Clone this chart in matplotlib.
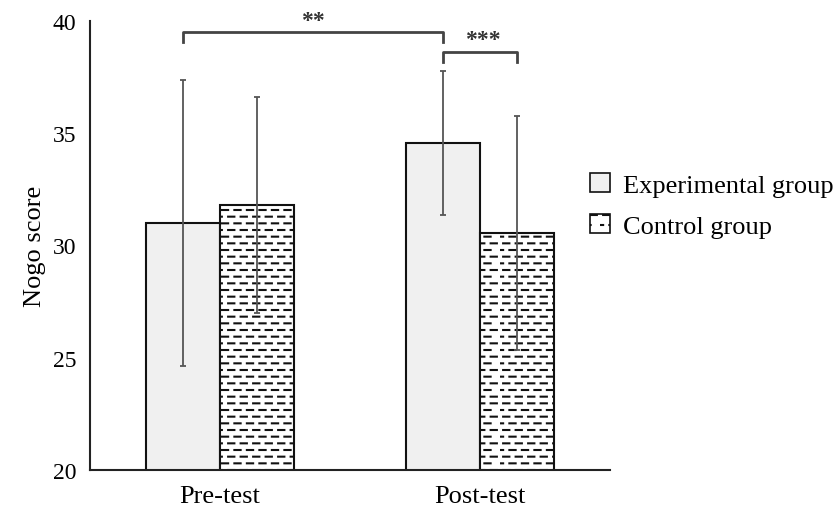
import numpy as np
import matplotlib
matplotlib.use("Agg")
import matplotlib.pyplot as plt
from matplotlib import hatch as mhatch
from matplotlib.path import Path
from matplotlib.patches import Patch

# ---- data ----
phases = ["Pre-test", "Post-test"]
groups = ["Experimental group", "Control group"]
exp_means = [31.0, 34.57]
exp_err = [6.37, 3.2]
ctrl_means = [31.8, 30.56]
ctrl_err = [4.8, 5.2]
sig_labels = ["**", "***"]
y_ticks = [20, 25, 30, 35, 40]


# ---- staggered dashed horizontal hatch (replaces the solid '-' hatch) ----
class DashedHorizontalHatch(mhatch.HatchPatternBase):
    def __init__(self, hatch, density):
        self.num_rows = hatch.count('-') * 5
        self.num_cols = 8
        self.num_lines = self.num_rows * self.num_cols if self.num_rows else 0
        self.num_vertices = self.num_lines * 2

    def set_vertices_and_codes(self, vertices, codes):
        period = 1.0 / self.num_cols
        dash = period * 0.5
        ys = np.linspace(0.0, 1.0, self.num_rows, endpoint=False) + 0.5 / self.num_rows
        i = 0
        for r, y in enumerate(ys):
            off = 0.5 * period if r % 2 else 0.0
            for c in range(self.num_cols):
                x0 = (c * period + off + 0.25 * period) % 1.0
                x1 = x0 + dash
                if x1 > 1.0:
                    x0, x1 = x0 - 1.0, x1 - 1.0
                vertices[i] = (x0, y)
                vertices[i + 1] = (x1, y)
                codes[i] = Path.MOVETO
                codes[i + 1] = Path.LINETO
                i += 2


mhatch._hatch_types = [DashedHorizontalHatch if t is mhatch.HorizontalHatch else t
                       for t in mhatch._hatch_types]

plt.rcParams['font.family'] = ['Liberation Serif', 'DejaVu Serif']
plt.rcParams['hatch.linewidth'] = 1.5
plt.rcParams['hatch.color'] = '#222222'

fig = plt.figure(figsize=(8.36, 5.10), dpi=100)
ax = fig.add_axes([0.1077, 0.0765, 0.622, 0.8805])

x = np.arange(len(phases))
w = 0.283
err_kw = dict(ecolor='#555555', elinewidth=1.3, capsize=2.5, capthick=1.3)

ax.bar(x - w / 2, exp_means, w, yerr=exp_err, color='#f0f0f0', edgecolor='#111111',
       linewidth=1.5, error_kw=err_kw, zorder=2)
ax.bar(x + w / 2, ctrl_means, w, yerr=ctrl_err, color='white', edgecolor='#111111',
       linewidth=1.5, hatch='---', error_kw=err_kw, zorder=2)

ax.set_xlim(-0.5, 1.5)
ax.set_ylim(20, 40)
ax.set_yticks(y_ticks)
ax.set_xticks(x)
ax.set_xticklabels(phases, fontsize=19)
ax.tick_params(axis='y', length=0, labelsize=17, pad=10)
ax.tick_params(axis='x', length=0, pad=11)
ax.set_ylabel("Nogo score", fontsize=19, labelpad=5)

for s in ['top', 'right']:
    ax.spines[s].set_visible(False)
for s in ['left', 'bottom']:
    ax.spines[s].set_linewidth(1.5)
    ax.spines[s].set_color('#222222')

# significance brackets
bc = '#444444'
x1, x2 = x[0] - w / 2, x[1] - w / 2
yb, leg = 39.5, 0.45
ax.plot([x1, x1, x2, x2], [yb - leg, yb, yb, yb - leg], color=bc, lw=2, clip_on=False)
ax.text((x1 + x2) / 2, yb + 0.05, sig_labels[0], ha='center', va='bottom', fontsize=17,
        fontweight='bold', color='#333333', clip_on=False)

x3, x4 = x[1] - w / 2, x[1] + w / 2
yb2 = 38.62
ax.plot([x3, x3, x4, x4], [yb2 - leg, yb2, yb2, yb2 - leg], color=bc, lw=2, clip_on=False)
ax.text((x3 + x4) / 2 + 0.01, yb2 + 0.1, sig_labels[1], ha='center', va='bottom', fontsize=17,
        fontweight='bold', color='#333333', clip_on=False)

handles = [Patch(facecolor='#f0f0f0', edgecolor='#111111', linewidth=1.2),
           Patch(facecolor='white', edgecolor='#111111', linewidth=1.2, hatch='--')]
fig.legend(handles, groups, loc='upper left', bbox_to_anchor=(0.693, 0.68),
           frameon=False, fontsize=19, handlelength=0.75, handleheight=0.75,
           handletextpad=0.5, labelspacing=0.65, borderaxespad=0)

fig.savefig("out.png", dpi=100)
